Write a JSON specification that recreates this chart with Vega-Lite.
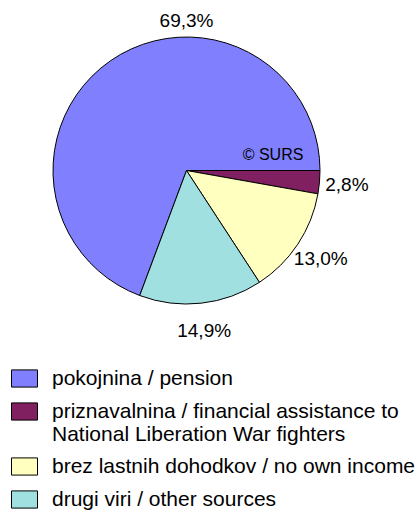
{
  "$schema": "https://vega.github.io/schema/vega-lite/v6.json",
  "width": 267,
  "height": 267,
  "autosize": {"type": "none"},
  "padding": {"left": 53, "top": 37, "right": 100, "bottom": 210},
  "background": "white",
  "config": {"view": {"stroke": null}, "font": "Liberation Sans"},
  "data": {
    "values": [
      {"category": "pokojnina / pension", "value": 69.3, "label": "69,3%"},
      {"category": "priznavalnina / financial assistance to National Liberation War fighters", "value": 2.8, "label": "2,8%"},
      {"category": "brez lastnih dohodkov / no own income", "value": 13.0, "label": "13,0%"},
      {"category": "drugi viri / other sources", "value": 14.9, "label": "14,9%"}
    ]
  },
  "layer": [
    {
      "mark": {"type": "arc", "stroke": "black", "strokeWidth": 1},
      "encoding": {
        "theta": {"field": "value", "type": "quantitative", "stack": true, "scale": {"range": [1.5707963, 7.8539816]}},
        "order": {"field": "value", "sort": "ascending"},
        "color": {
          "field": "category",
          "type": "nominal",
          "sort": null,
          "scale": {
            "domain": ["pokojnina / pension", "priznavalnina / financial assistance to National Liberation War fighters", "brez lastnih dohodkov / no own income", "drugi viri / other sources"],
            "range": ["#8080FF", "#802060", "#FFFFC0", "#A0E0E0"]
          },
          "legend": {
            "title": null,
            "orient": "none",
            "legendX": -42,
            "legendY": 328,
            "padding": 0,
            "symbolType": "M-1,-0.66H1V0.66H-1Z",
            "symbolSize": 676,
            "symbolStrokeColor": "black",
            "symbolStrokeWidth": 1,
            "symbolOpacity": 1,
            "labelFont": "Liberation Sans",
            "labelFontSize": 21,
            "labelColor": "black",
            "labelLimit": 400,
            "labelOffset": 14,
            "rowPadding": 8,
            "labelExpr": "datum.label == 'priznavalnina / financial assistance to National Liberation War fighters' ? ['priznavalnina / financial assistance to', 'National Liberation War fighters'] : datum.label"
          }
        }
      }
    },
    {
      "mark": {"type": "text", "radius": 161, "fontSize": 19, "font": "Liberation Sans", "color": "black"},
      "encoding": {
        "theta": {"field": "value", "type": "quantitative", "stack": true, "scale": {"range": [1.5707963, 7.8539816]}},
        "order": {"field": "value", "sort": "ascending"},
        "text": {"condition": {"test": "datum.value > 50", "value": ""}, "field": "label"}
      }
    },
    {
      "transform": [{"filter": "datum.value > 50"}],
      "mark": {"type": "text", "theta": 0, "radius": 150, "fontSize": 19, "font": "Liberation Sans", "color": "black"},
      "encoding": {"text": {"field": "label"}}
    },
    {
      "data": {"values": [{"note": "© SURS"}]},
      "mark": {"type": "text", "theta": 1.388, "radius": 88, "fontSize": 16, "font": "Liberation Sans", "color": "black"},
      "encoding": {"text": {"field": "note"}}
    }
  ]
}
